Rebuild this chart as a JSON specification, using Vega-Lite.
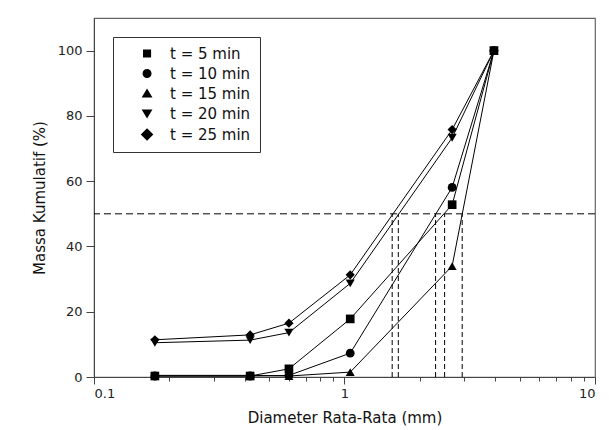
{
  "$schema": "https://vega.github.io/schema/vega-lite/v6.json",
  "width": 501,
  "height": 359,
  "autosize": {"type": "pad"},
  "padding": {"left": 32, "top": 18, "right": 6, "bottom": 5},
  "background": "white",
  "config": {
    "view": {"stroke": "#666", "strokeWidth": 1.2},
    "font": "DejaVu Sans",
    "axis": {
      "grid": false,
      "domainColor": "#444",
      "tickColor": "#444",
      "labelColor": "#222",
      "titleColor": "#111",
      "labelFont": "DejaVu Sans",
      "titleFont": "DejaVu Sans",
      "labelFontSize": 13,
      "titleFontSize": 15,
      "titleFontWeight": "normal"
    }
  },
  "datasets": {
    "mass": [
      {"t": "t = 5 min", "d": 0.175, "m": 0.3},
      {"t": "t = 5 min", "d": 0.42, "m": 0.3},
      {"t": "t = 5 min", "d": 0.6, "m": 2.5},
      {"t": "t = 5 min", "d": 1.054, "m": 17.8},
      {"t": "t = 5 min", "d": 2.69, "m": 52.8},
      {"t": "t = 5 min", "d": 3.95, "m": 100},
      {"t": "t = 10 min", "d": 0.175, "m": 0.3},
      {"t": "t = 10 min", "d": 0.42, "m": 0.3},
      {"t": "t = 10 min", "d": 0.6, "m": 0.5},
      {"t": "t = 10 min", "d": 1.054, "m": 7.3},
      {"t": "t = 10 min", "d": 2.69, "m": 58.1},
      {"t": "t = 10 min", "d": 3.95, "m": 100},
      {"t": "t = 15 min", "d": 0.175, "m": 0.5},
      {"t": "t = 15 min", "d": 0.42, "m": 0.5},
      {"t": "t = 15 min", "d": 0.6, "m": 0.3},
      {"t": "t = 15 min", "d": 1.054, "m": 1.5},
      {"t": "t = 15 min", "d": 2.69, "m": 34},
      {"t": "t = 15 min", "d": 3.95, "m": 100},
      {"t": "t = 20 min", "d": 0.175, "m": 10.5},
      {"t": "t = 20 min", "d": 0.42, "m": 11.3},
      {"t": "t = 20 min", "d": 0.6, "m": 13.6},
      {"t": "t = 20 min", "d": 1.054, "m": 28.7},
      {"t": "t = 20 min", "d": 2.69, "m": 73.3},
      {"t": "t = 20 min", "d": 3.95, "m": 100},
      {"t": "t = 25 min", "d": 0.175, "m": 11.4},
      {"t": "t = 25 min", "d": 0.42, "m": 12.9},
      {"t": "t = 25 min", "d": 0.6, "m": 16.5},
      {"t": "t = 25 min", "d": 1.054, "m": 31.3},
      {"t": "t = 25 min", "d": 2.69, "m": 75.8},
      {"t": "t = 25 min", "d": 3.95, "m": 100}
    ],
    "d50": [
      {"t": "t = 25 min", "d": 1.55, "m": 50, "z": 0},
      {"t": "t = 20 min", "d": 1.64, "m": 50, "z": 0},
      {"t": "t = 10 min", "d": 2.31, "m": 50, "z": 0},
      {"t": "t = 5 min", "d": 2.51, "m": 50, "z": 0},
      {"t": "t = 15 min", "d": 2.95, "m": 50, "z": 0}
    ],
    "half": [{"m": 50}]
  },
  "layer": [
    {
      "data": {"name": "mass"},
      "mark": {"type": "line", "color": "black", "strokeWidth": 1},
      "encoding": {
        "x": {
          "field": "d", "type": "quantitative",
          "scale": {"type": "log", "domain": [0.1, 10], "nice": false},
          "axis": {
            "title": "Diameter Rata-Rata (mm)",
            "values": [0.1, 0.2, 0.3, 0.4, 0.5, 0.6, 0.7, 0.8, 0.9, 1, 2, 3, 4, 5, 6, 7, 8, 9, 10],
            "labelExpr": "indexof([0.1, 1, 10], datum.value) >= 0 ? datum.label : ''",
            "format": "~g",
            "tickSize": {"condition": {"test": "indexof([0.1, 1, 10], datum.value) >= 0", "value": 7}, "value": 4},
            "labelPadding": 3,
            "titlePadding": 10
          }
        },
        "y": {
          "field": "m", "type": "quantitative",
          "scale": {"domain": [0, 110], "nice": false, "zero": true},
          "axis": {
            "title": "Massa Kumulatif (%)",
            "values": [0, 10, 20, 30, 40, 50, 60, 70, 80, 90, 100],
            "labelExpr": "datum.value % 20 == 0 ? datum.label : ''",
            "tickSize": {"condition": {"test": "datum.value % 20 == 0", "value": 8}, "value": 4},
            "labelPadding": 4,
            "titlePadding": 10
          }
        },
        "detail": {"field": "t"}
      }
    },
    {
      "data": {"name": "half"},
      "mark": {"type": "rule", "color": "black", "strokeWidth": 1, "strokeDash": [7, 4]},
      "encoding": {
        "y": {"field": "m", "type": "quantitative"}
      }
    },
    {
      "data": {"name": "d50"},
      "mark": {"type": "rule", "color": "black", "strokeWidth": 1, "strokeDash": [5, 3]},
      "encoding": {
        "x": {"field": "d", "type": "quantitative"},
        "y": {"field": "z", "type": "quantitative"},
        "y2": {"field": "m"}
      }
    },
    {
      "data": {"name": "mass"},
      "mark": {"type": "point", "filled": true, "color": "black", "opacity": 1},
      "encoding": {
        "x": {"field": "d", "type": "quantitative"},
        "y": {"field": "m", "type": "quantitative"},
        "shape": {
          "field": "t", "type": "nominal",
          "scale": {"domain": ["t = 5 min", "t = 10 min", "t = 15 min", "t = 20 min", "t = 25 min"], "range": ["square", "circle", "triangle-up", "triangle-down", "diamond"]},
          "legend": null
        },
        "size": {
          "field": "t", "type": "nominal",
          "scale": {"domain": ["t = 5 min", "t = 10 min", "t = 15 min", "t = 20 min", "t = 25 min"], "range": [75, 85, 100, 100, 170]},
          "legend": null
        }
      }
    },
    {
      "data": {"name": "mass"},
      "mark": {"type": "point", "filled": true, "color": "black", "opacity": 0, "size": 81},
      "encoding": {
        "x": {"field": "d", "type": "quantitative"},
        "y": {"field": "m", "type": "quantitative"},
        "shape": {
          "field": "t", "type": "nominal",
          "scale": {
            "domain": ["t = 5 min", "t = 10 min", "t = 15 min", "t = 20 min", "t = 25 min"],
            "range": [
              "M-1,0H8.8M3,-0.9H4.8V0.9H3Z",
              "M-1,0H8.8M2.9,0A1,1 0 1,0 4.9,0A1,1 0 1,0 2.9,0Z",
              "M-1,0H8.8M3.9,-1.1L5.1,0.9H2.7Z",
              "M-1,0H8.8M3.9,1.1L5.1,-0.9H2.7Z",
              "M-1,0H8.8M3.9,-1.4L5.3,0L3.9,1.4L2.5,0Z"
            ]
          },
          "legend": {
            "title": null,
            "orient": "top-left",
            "offset": 19,
            "strokeColor": "#333",
            "padding": 9,
            "labelFont": "DejaVu Sans",
            "labelFontSize": 15,
            "labelColor": "#111",
            "symbolSize": 81,
            "symbolFillColor": "black",
            "symbolStrokeColor": "black",
            "symbolStrokeWidth": 1,
            "symbolOpacity": 1,
            "labelOffset": 33,
            "rowPadding": 4,
            "encode": {
              "symbols": {
                "update": {
                  "stroke": {"value": "black"},
                  "strokeOpacity": {"value": 1},
                  "fill": {"value": "black"},
                  "strokeWidth": {"value": 1},
                  "opacity": {"value": 1}
                }
              }
            }
          }
        }
      }
    }
  ],
  "resolve": {"scale": {"shape": "independent"}}
}
